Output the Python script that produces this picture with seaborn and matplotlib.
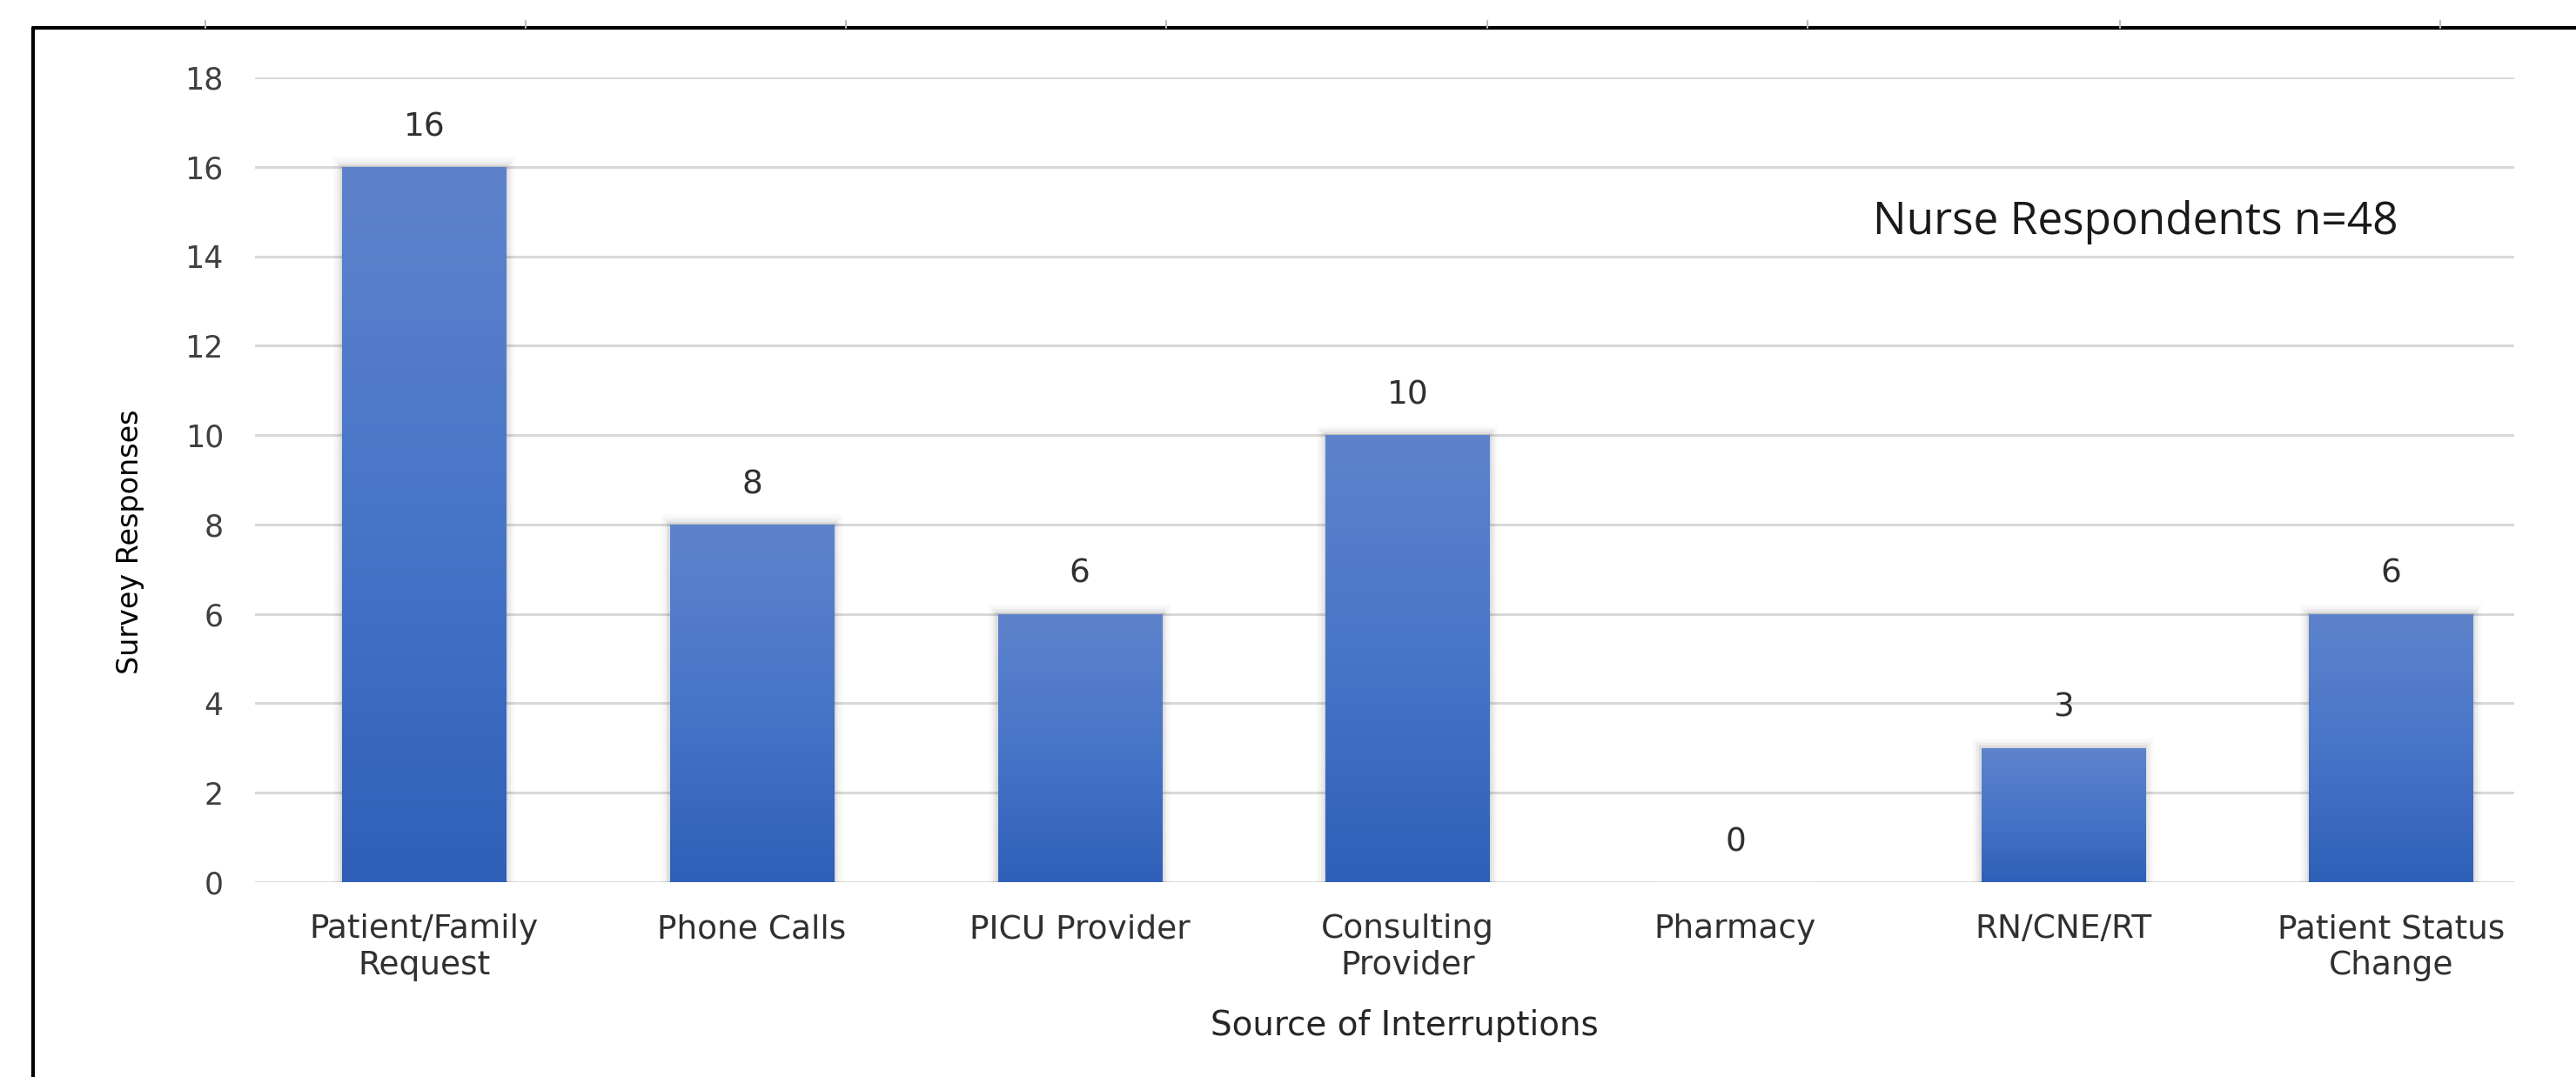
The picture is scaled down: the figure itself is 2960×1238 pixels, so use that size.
import numpy as np
import pandas as pd
import matplotlib
matplotlib.use("Agg")
import matplotlib.pyplot as plt
from matplotlib.colors import LinearSegmentedColormap
from matplotlib.lines import Line2D
import seaborn as sns

# --- data ---
categories = ["Patient/Family\nRequest", "Phone Calls", "PICU Provider",
              "Consulting\nProvider", "Pharmacy", "RN/CNE/RT",
              "Patient Status\nChange"]
responses = [16, 8, 6, 10, 0, 3, 6]
y_ticks = [0, 2, 4, 6, 8, 10, 12, 14, 16, 18]

df = pd.DataFrame({"source": categories, "responses": responses})

sns.set_theme(style="white")
plt.rcParams["font.family"] = ["DejaVu Sans"]

fig = plt.figure(figsize=(29.6, 12.38), dpi=100)
ax = fig.add_axes([0.099, 0.181, 0.877, 0.747])

sns.barplot(data=df, x="source", y="responses", color="#4472C4",
            width=0.5, ax=ax, zorder=3)

# gradient fill, lighter at top like the Excel style
cmap = LinearSegmentedColormap.from_list("bar", ["#2F5FB7", "#4775C8", "#5E83CC"])
grad = np.linspace(0, 1, 256).reshape(-1, 1)
for p in ax.patches:
    x0, y0 = p.get_x(), p.get_y()
    w, h = p.get_width(), p.get_height()
    if h <= 0:
        continue
    p.set_facecolor("none")
    p.set_edgecolor("none")
    im = ax.imshow(grad, cmap=cmap, origin="lower", aspect="auto",
                   extent=[x0, x0 + w, y0, y0 + h], zorder=3)
    im.set_clip_path(p)
    # soft shadow
    for k, a in enumerate([0.06, 0.04, 0.025, 0.015]):
        d = 0.007 * (k + 1)
        ax.add_patch(plt.Rectangle((x0 - d, y0), w + 2 * d, h + d * 8,
                                   color="black", alpha=a, lw=0, zorder=2))

ax.set_xlim(-0.516, 6.376)
ax.set_ylim(0, 18)
ax.set_yticks(y_ticks)
ax.yaxis.grid(True, color="#D9D9D9", lw=2.2, zorder=0)
ax.xaxis.grid(False)
for s in ax.spines.values():
    s.set_visible(False)
ax.tick_params(axis="both", length=0, colors="#303030")
ax.tick_params(axis="x", pad=26, labelsize=27)
ax.tick_params(axis="y", pad=26, labelsize=25, colors="#404040")

# value labels
for i, v in enumerate(responses):
    ax.annotate(str(v), (i, v), xytext=(0, 33), textcoords="offset points",
                ha="center", va="center", fontsize=27, color="#303030")

ax.set_xlabel("Source of Interruptions", fontsize=28, color="#262626")
ax.xaxis.set_label_coords(0.509, -0.158)
ax.set_ylabel("Survey Responses", fontsize=24, color="#000000",
              family=["Liberation Sans Narrow", "DejaVu Sans"])
ax.yaxis.set_label_coords(-0.049, 0.423)

ax.text(0.716, 0.82, "Nurse Respondents n=48", transform=ax.transAxes,
        fontsize=37, color="#1A1A1A", ha="left", va="center",
        family=["Open Sans", "DejaVu Sans"])

# frame of the screenshot
fig.add_artist(Line2D([38 / 2960, 38 / 2960], [0, 1 - 32 / 1238],
                      color="black", lw=3))
fig.add_artist(Line2D([38 / 2960, 1], [1 - 32 / 1238, 1 - 32 / 1238],
                      color="black", lw=3))
for xm in [125, 320, 515, 710, 905, 1100, 1290, 1485]:
    xf = xm * 1.888 / 2960
    fig.add_artist(Line2D([xf, xf], [1 - 32 / 1238, 1 - 24 / 1238],
                          color="#BBBBBB", lw=1.5))

fig.savefig("out.png", dpi=100, facecolor="white")
